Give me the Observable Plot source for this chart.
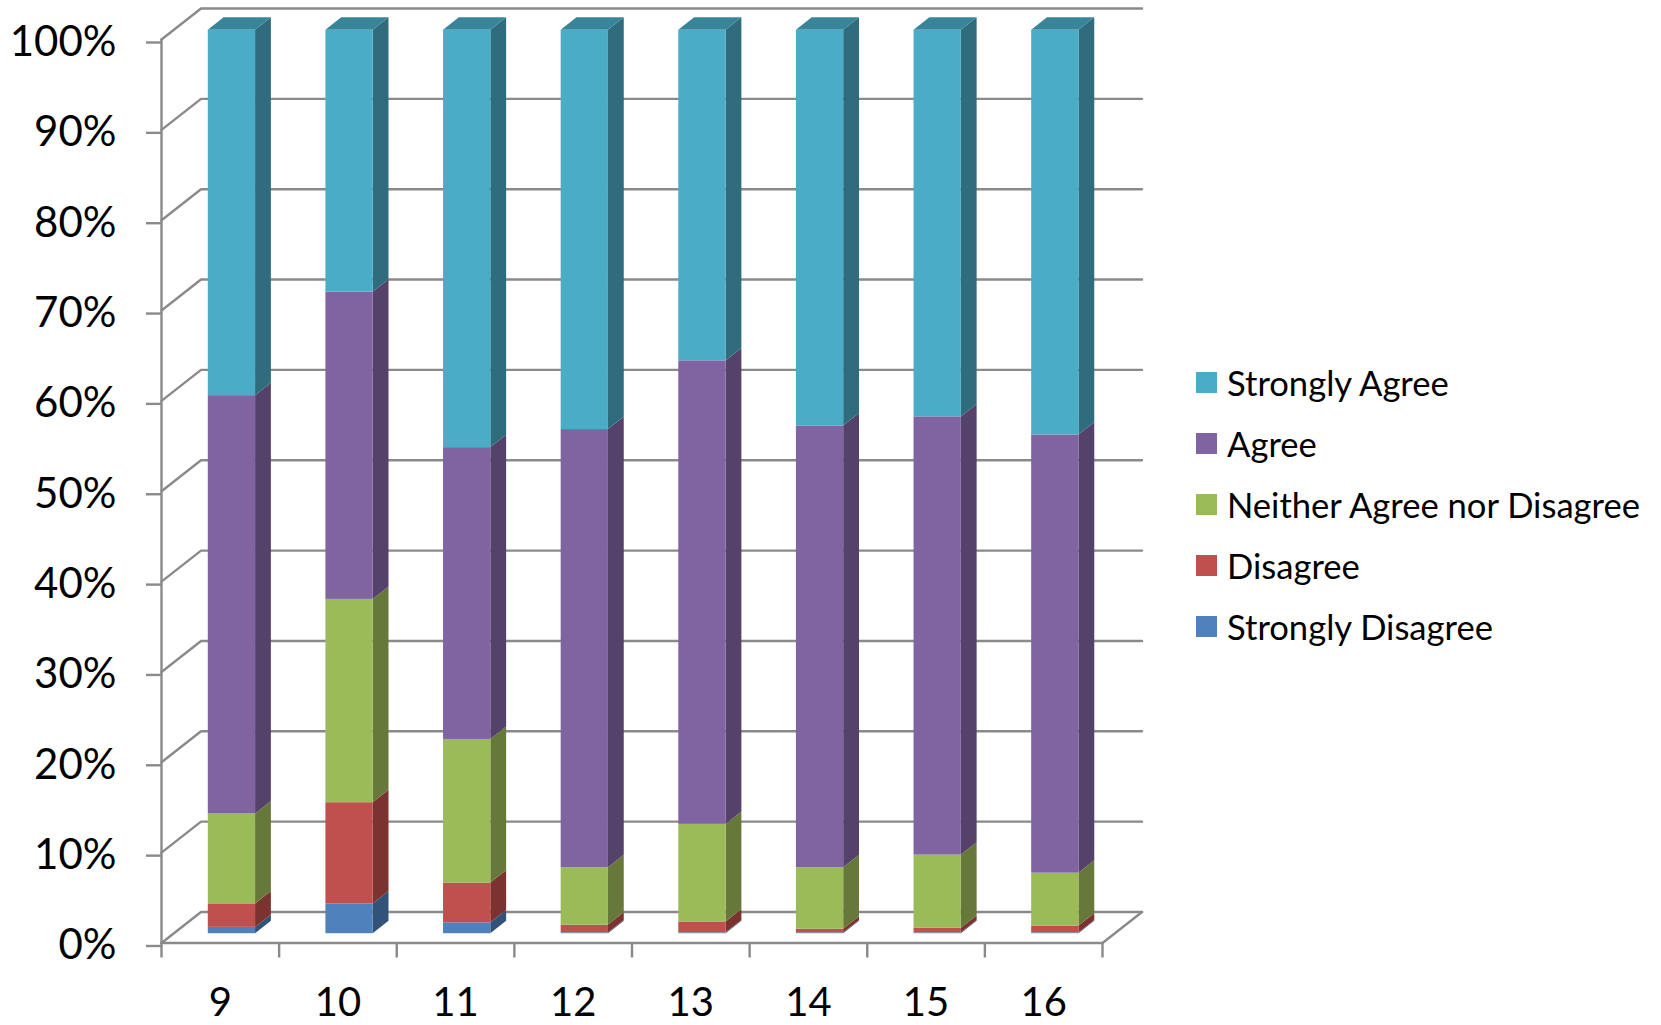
<!DOCTYPE html>
<html><head><meta charset="utf-8">
<script src="https://cdn.jsdelivr.net/npm/d3@7"></script>
<script src="https://cdn.jsdelivr.net/npm/@observablehq/plot@0.6"></script>
<style>
html,body{margin:0;padding:0;background:#fff}
#chart{position:relative;width:1661px;height:1025px;overflow:hidden}
#chart svg{display:block}
#legend{position:absolute;left:1196px;top:352px;color:#000}
#legend [class$="-swatch"]{height:61px;margin:0;padding:0;display:flex;align-items:center;white-space:nowrap;font:34.6px Lato,sans-serif;color:#000}
#legend [class$="-swatch"] svg{margin-right:10px;flex:none}
</style></head><body>
<div id="chart"><div id="legend"></div></div>
<script>
const grades = ["9","10","11","12","13","14","15","16"];
const series = ["Strongly Agree","Agree","Neither Agree nor Disagree","Disagree","Strongly Disagree"];
const stronglyDisagree = [0.7,3.3,1.2,0.1,0.1,0.1,0.1,0.1];
const disagree = [2.6,11.2,4.4,0.85,1.2,0.4,0.5,0.75];
const neither = [9.95,22.5,15.9,6.35,10.8,6.8,8.1,5.85];
const agree = [46.3,34,32.3,48.5,51.3,48.9,48.5,48.5];
const stronglyAgree = [40.45,29,46.2,44.2,36.6,43.8,42.8,44.8];
const frontColors = ["#4AACC6","#8064A2","#9BBB59","#C0504D","#4F81BD"];
const sideColors = ["#2F6C7D","#54426B","#66783A","#7C322F","#325379"];
const topColor = "#38859A";
const axisColor = "#8A8A8A";

// pseudo-3D: depth z runs 0 (front wall) to 1 (back wall)
const depthX = 0.336, depthY = 3.43;
const barX0 = 0.297, barX1 = 0.699, barZ0 = 0.3, barZ1 = 0.7;
const px = (x, z) => x + z * depthX;
const py = (p, z) => p + z * depthY;

// stack from the bottom up
const stackOrder = [stronglyDisagree, disagree, neither, agree, stronglyAgree];
const segments = [];
grades.forEach((g, i) => {
  let low = 0;
  stackOrder.forEach((vals, k) => {
    const high = low + vals[i];
    const idx = series.length - 1 - k;
    segments.push({i, g, series: series[idx], side: sideColors[idx], low, high});
    low = high;
  });
});
const sidePts = segments.flatMap((s, n) => [barZ0, barZ1].map(z => ({
  key: n, side: s.side, x: px(s.i + barX1, z), y1: py(s.low, z), y2: py(s.high, z)
})));
const topPts = grades.flatMap((g, i) => {
  const t = d3.sum(stackOrder, v => v[i]);
  const a = py(t, barZ0), b = py(t, barZ1);
  return [
    {i, x: px(i + barX0, barZ0), y1: a, y2: a},
    {i, x: px(i + barX0, barZ1), y1: a, y2: b},
    {i, x: px(i + barX1, barZ0), y1: a, y2: b},
    {i, x: px(i + barX1, barZ1), y1: b, y2: b}
  ];
});
const pctTicks = d3.range(0, 101, 10);
const wallLines = pctTicks.flatMap(p => [
  {p, x: px(0, 0), y: py(p, 0)},
  {p, x: px(0, 1), y: py(p, 1)},
  {p, x: px(grades.length, 1), y: py(p, 1)}
]);
const frame = [
  {k: "left", x: 0, y: 0}, {k: "left", x: 0, y: 100},
  {k: "bottom", x: 0, y: 0}, {k: "bottom", x: grades.length, y: 0},
  {k: "bottom", x: px(grades.length, 1), y: py(0, 1)}
];

const plot = Plot.plot({
  width: 1661, height: 1025,
  marginLeft: 161, marginRight: 559, marginTop: 39, marginBottom: 82.5,
  style: {background: "transparent", overflow: "visible", fontFamily: "Lato, sans-serif"},
  x: {domain: [0, grades.length]},
  y: {domain: [0, 100]},
  color: {domain: series, range: frontColors},
  marks: [
    Plot.line(wallLines, {x: "x", y: "y", z: "p", stroke: axisColor, strokeWidth: 2.4}),
    Plot.line(frame, {x: "x", y: "y", z: "k", stroke: axisColor, strokeWidth: 2.4}),
    Plot.axisY({ticks: pctTicks, tickSize: 15, tickPadding: 30, stroke: axisColor, strokeWidth: 2.4, label: null,
      tickFormat: d => d + "%", fontSize: 42, fill: "#000", dy: 3}),
    Plot.axisX({ticks: d3.range(0, grades.length + 1), tickSize: 15, stroke: axisColor, strokeWidth: 2.4,
      tickFormat: () => "", label: null}),
    Plot.axisX({ticks: grades.map((g, i) => i + 0.5), tickSize: 0, tickPadding: 45, label: null,
      tickFormat: d => grades[d - 0.5], fontSize: 40, fill: "#000"}),
    Plot.areaY(sidePts, {x: "x", y1: "y1", y2: "y2", z: "key", fill: {value: d => d.side, scale: null}}),
    Plot.areaY(topPts, {x: "x", y1: "y1", y2: "y2", z: "i", fill: topColor}),
    Plot.rect(segments, {
      x1: d => px(d.i + barX0, barZ0), x2: d => px(d.i + barX1, barZ0),
      y1: d => py(d.low, barZ0), y2: d => py(d.high, barZ0),
      fill: "series"
    })
  ]
});
document.getElementById("chart").prepend(plot);
document.getElementById("legend").append(
  plot.legend("color", {legend: "swatches", columns: 1, swatchSize: 21, className: "lg"})
);
</script>
</body></html>
